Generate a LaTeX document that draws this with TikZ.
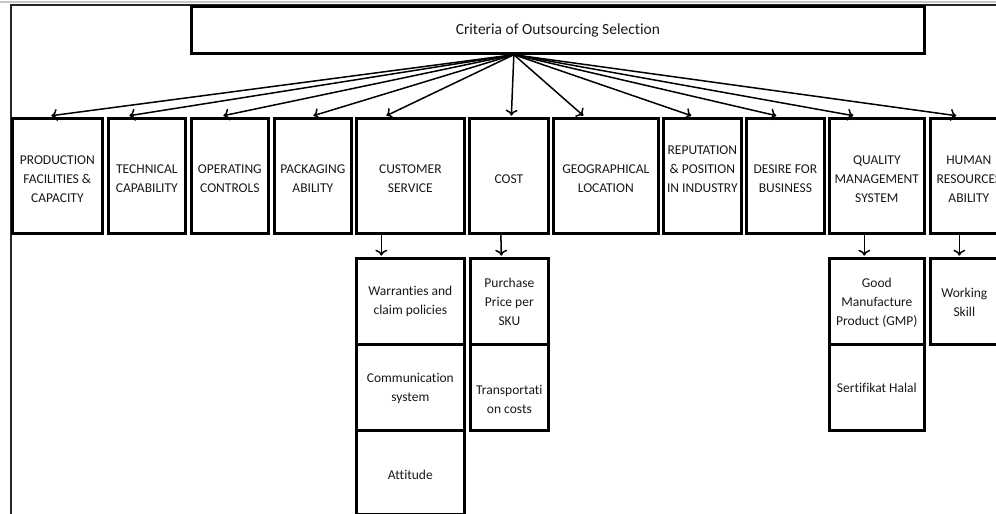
\documentclass[tikz,border=0pt]{standalone}
\usepackage{fontspec}
\setmainfont{Carlito}[Ligatures=NoCommon]
\usetikzlibrary{arrows.meta}
\begin{document}
\begin{tikzpicture}[x=1pt,y=-1pt,
  box/.style={draw=black, line width=2.7pt, rectangle, inner sep=0pt, anchor=north west},
  lbl/.style={font=\fontsize{13.5}{19}\selectfont, align=center, text=black!90, inner sep=0pt},
  ttl/.style={font=\fontsize{15.5}{19}\selectfont, text=black!90, inner sep=0pt},
  arr/.style={-{To[length=6pt,width=12pt]}, line width=1.5pt},
  frame/.style={line width=2pt, black!85},
]
\clip (0,0) rectangle (996,514);
\fill[white] (0,0) rectangle (996,514);
\draw[gray!45, line width=2pt] (0,1.5) -- (996,1.5);
\draw[frame] (11,514) -- (11,5) -- (996,5);

% title
\node[box, minimum width=733pt, minimum height=47pt,
  label={[ttl,yshift=-1pt]center:Criteria of Outsourcing Selection}] (title) at (190,5) {};
\coordinate (src) at ([xshift=-44pt]title.south);

% main row
\node[box, minimum width=90pt, minimum height=115pt,
  label={[lbl,yshift=-3pt]center:{PRODUCTION\\FACILITIES \&\\CAPACITY}}] (b1) at (11,117) {};
\node[box, minimum width=77pt, minimum height=115pt,
  label={[lbl,yshift=-3pt]center:{TECHNICAL\\CAPABILITY}}] (b2) at (107,117) {};
\node[box, minimum width=77pt, minimum height=115pt,
  label={[lbl,yshift=-3pt]center:{OPERATING\\CONTROLS}}] (b3) at (190,117) {};
\node[box, minimum width=77pt, minimum height=115pt,
  label={[lbl,yshift=-3pt]center:{PACKAGING\\ABILITY}}] (b4) at (273,117) {};
\node[box, minimum width=108pt, minimum height=115pt,
  label={[lbl,yshift=-3pt]center:{CUSTOMER\\SERVICE}}] (b5) at (355,117) {};
\node[box, minimum width=79pt, minimum height=115pt,
  label={[lbl,yshift=-3pt]center:{COST}}] (b6) at (468,117) {};
\node[box, minimum width=105pt, minimum height=115pt,
  label={[lbl,yshift=-3pt]center:{GEOGRAPHICAL\\LOCATION}}] (b7) at (552,117) {};
\node[box, minimum width=78pt, minimum height=115pt,
  label={[lbl,yshift=7pt]center:{REPUTATION\\\& POSITION\\IN INDUSTRY}}] (b8) at (662,117) {};
\node[box, minimum width=78pt, minimum height=115pt,
  label={[lbl,yshift=-3pt]center:{DESIRE FOR\\BUSINESS}}] (b9) at (745,117) {};
\node[box, minimum width=95pt, minimum height=115pt,
  label={[lbl,yshift=-3pt]center:{QUALITY\\MANAGEMENT\\SYSTEM}}] (b10) at (828,117) {};
\node[box, minimum width=77pt, minimum height=115pt,
  label={[lbl,yshift=-3pt]center:{HUMAN\\RESOURCES\\ABILITY}}] (b11) at (929,117) {};

% arrows from title
\draw[arr] (src) -- ([xshift=-6pt,yshift=1.3pt]b1.north);
\draw[arr] (src) -- ([xshift=-17.5pt,yshift=1.3pt]b2.north);
\draw[arr] (src) -- ([xshift=-6.5pt,yshift=1.3pt]b3.north);
\draw[arr] (src) -- ([xshift=0.5pt,yshift=1.3pt]b4.north);
\draw[arr] (src) -- ([xshift=-24pt,yshift=1.3pt]b5.north);
\draw[arr] (src) -- ([xshift=2.5pt,yshift=1.3pt]b6.north);
\draw[arr] (src) -- ([xshift=-22.5pt,yshift=1.3pt]b7.north);
\draw[arr] (src) -- ([xshift=-11pt,yshift=1.3pt]b8.north);
\draw[arr] (src) -- ([xshift=-9pt,yshift=1.3pt]b9.north);
\draw[arr] (src) -- ([xshift=-23.5pt,yshift=1.3pt]b10.north);
\draw[arr] (src) -- ([xshift=-12.5pt,yshift=1.3pt]b11.north);

% sub boxes
\node[box, minimum width=108pt, minimum height=86pt,
  label={[lbl]center:{Warranties and\\claim policies}}] (s1) at (355,257) {};
\node[box, minimum width=108pt, minimum height=86pt,
  label={[lbl,yshift=-1pt]center:{Communication\\system}}] (s2) at (355,343) {};
\node[box, minimum width=108pt, minimum height=84pt,
  label={[lbl,yshift=-3pt]center:{Attitude}}] (s3) at (355,429) {};
\node[box, minimum width=78pt, minimum height=86pt,
  label={[lbl,yshift=-1pt]center:{Purchase\\Price per\\SKU}}] (c1) at (469,257) {};
\node[box, minimum width=78pt, minimum height=86pt,
  label={[lbl,yshift=-12pt]center:{Transportati\\on costs}}] (c2) at (469,343) {};
\node[box, minimum width=95pt, minimum height=86pt,
  label={[lbl,yshift=-1pt]center:{Good\\Manufacture\\Product (GMP)}}] (q1) at (828,257) {};
\node[box, minimum width=95pt, minimum height=86pt,
  label={[lbl,yshift=-1pt]center:{Sertifikat Halal}}] (q2) at (828,343) {};
\node[box, minimum width=72pt, minimum height=86pt,
  label={[lbl,yshift=-1pt,xshift=-2pt]center:{Working\\Skill}}] (h1) at (929,257) {};

% sub arrows
\draw[arr] ([xshift=-29pt]b5.south) -- ([xshift=-29pt,yshift=1.3pt]s1.north);
\draw[arr] ([xshift=-8pt]b6.south) -- ([xshift=-8pt,yshift=1.3pt]c1.north);
\draw[arr] ([xshift=-12.5pt]b10.south) -- ([xshift=-12.5pt,yshift=1.3pt]q1.north);
\draw[arr] ([xshift=-9.5pt]b11.south) -- ([xshift=-7pt,yshift=1.3pt]h1.north);
\end{tikzpicture}
\end{document}
